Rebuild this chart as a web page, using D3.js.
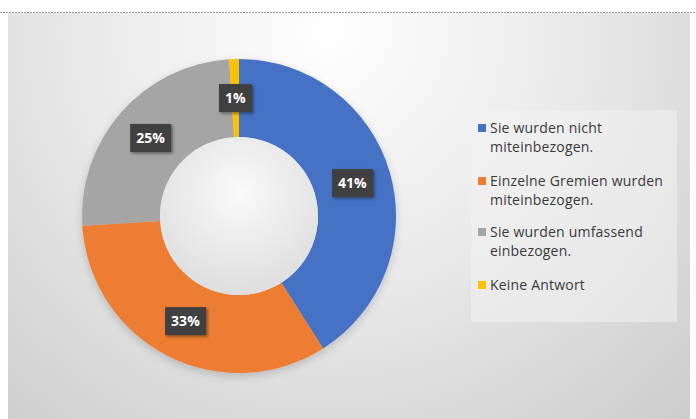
<!DOCTYPE html>
<html>
<head>
<meta charset="utf-8">
<script src="https://cdn.jsdelivr.net/npm/d3@7"></script>
<style>
  html, body { margin: 0; padding: 0; background: #fff; }
  svg { display: block; }
</style>
</head>
<body>
<svg id="chart" width="696" height="419"></svg>
<script>
// Survey answers: share of respondents per answer
const categories = [
  "Sie wurden nicht miteinbezogen.",
  "Einzelne Gremien wurden miteinbezogen.",
  "Sie wurden umfassend einbezogen.",
  "Keine Antwort"
];
const legendLines = [
  ["Sie wurden nicht", "miteinbezogen."],
  ["Einzelne Gremien wurden", "miteinbezogen."],
  ["Sie wurden umfassend", "einbezogen."],
  ["Keine Antwort"]
];
const values = [41, 33, 25, 1];
const colors = ["#4472C4", "#ED7D31", "#A5A5A5", "#FFC000"];

const W = 696, H = 419;
const svg = d3.select("#chart");
const defs = svg.append("defs");

// Background: soft radial gradient, light at the top centre
const bg = defs.append("radialGradient").attr("id", "bg")
  .attr("gradientUnits", "userSpaceOnUse")
  .attr("cx", 330).attr("cy", 40).attr("r", 580)
  .attr("fx", 330).attr("fy", 30);
bg.append("stop").attr("offset", "0%").attr("stop-color", "#ffffff");
bg.append("stop").attr("offset", "45%").attr("stop-color", "#e8e8e8");
bg.append("stop").attr("offset", "100%").attr("stop-color", "#c6c6c6");

const shadow = defs.append("filter").attr("id", "shadow")
  .attr("x", "-30%").attr("y", "-30%").attr("width", "160%").attr("height", "160%");
shadow.append("feDropShadow").attr("dx", 1.5).attr("dy", 1.5)
  .attr("stdDeviation", 1.5).attr("flood-color", "#000").attr("flood-opacity", 0.45);

const ringShadow = defs.append("filter").attr("id", "ringShadow")
  .attr("x", "-20%").attr("y", "-20%").attr("width", "140%").attr("height", "140%");
ringShadow.append("feDropShadow").attr("dx", 0).attr("dy", 3)
  .attr("stdDeviation", 4).attr("flood-color", "#000").attr("flood-opacity", 0.18);

// Chart area
svg.append("rect").attr("x", 8).attr("y", 13).attr("width", 682).attr("height", H - 13)
  .attr("fill", "url(#bg)");
svg.append("line").attr("x1", 0).attr("x2", W).attr("y1", 12.5).attr("y2", 12.5)
  .attr("stroke", "#9a9a9a").attr("stroke-width", 1).attr("stroke-dasharray", "2,1");

// Donut
const cx = 239, cy = 216, outerR = 157, innerR = 79;
const pie = d3.pie().sort(null).value(d => d);
const arcs = pie(values);
const arc = d3.arc().innerRadius(innerR).outerRadius(outerR);
const labelArc = d3.arc().innerRadius(118).outerRadius(118);

const g = svg.append("g").attr("transform", `translate(${cx},${cy})`);
g.append("g").attr("filter", "url(#ringShadow)")
  .selectAll("path").data(arcs).join("path")
  .attr("d", arc)
  .attr("fill", (d, i) => colors[i]);

// Inner hole: slightly shaded disc
const hole = defs.append("radialGradient").attr("id", "hole")
  .attr("cx", "50%").attr("cy", "35%").attr("r", "65%");
hole.append("stop").attr("offset", "0%").attr("stop-color", "#fafafa");
hole.append("stop").attr("offset", "100%").attr("stop-color", "#dedede");
g.append("circle").attr("r", innerR).attr("fill", "url(#hole)");

// Value labels in dark boxes
const labels = g.selectAll("g.lbl").data(arcs).join("g").attr("class", "lbl")
  .attr("transform", d => {
    const [x, y] = labelArc.centroid(d);
    return `translate(${x},${y})`;
  });
labels.append("text")
  .attr("text-anchor", "middle").attr("dy", "0.36em")
  .attr("font-family", "'Open Sans', 'DejaVu Sans', sans-serif")
  .attr("font-size", 14).attr("font-weight", "bold")
  .attr("fill", "#ffffff")
  .text(d => d.data + "%");
labels.each(function () {
  const grp = d3.select(this);
  const b = grp.select("text").node().getBBox();
  grp.insert("rect", "text")
    .attr("x", b.x - 6).attr("y", -14)
    .attr("width", b.width + 12).attr("height", 28)
    .attr("fill", "#404040")
    .attr("filter", "url(#shadow)");
});

// Legend
const lg = svg.append("g");
lg.append("rect").attr("x", 471).attr("y", 110).attr("width", 206).attr("height", 212)
  .attr("fill", "#f2f2f2").attr("opacity", 0.55);
const itemY = [128, 181, 232, 285];
const items = lg.selectAll("g.item").data(legendLines).join("g").attr("class", "item")
  .attr("transform", (d, i) => `translate(478,${itemY[i]})`);
items.append("rect").attr("x", 0).attr("y", -4).attr("width", 8).attr("height", 8)
  .attr("fill", (d, i) => colors[i]);
items.append("text")
  .attr("x", 12)
  .attr("font-family", "'Open Sans', 'DejaVu Sans', sans-serif")
  .attr("font-size", 14)
  .attr("letter-spacing", 0.2)
  .attr("fill", "#3a3a3a")
  .selectAll("tspan").data(d => d).join("tspan")
  .attr("x", 12).attr("y", (d, j) => j * 19).attr("dy", "0.35em")
  .text(d => d);
</script>
</body>
</html>
